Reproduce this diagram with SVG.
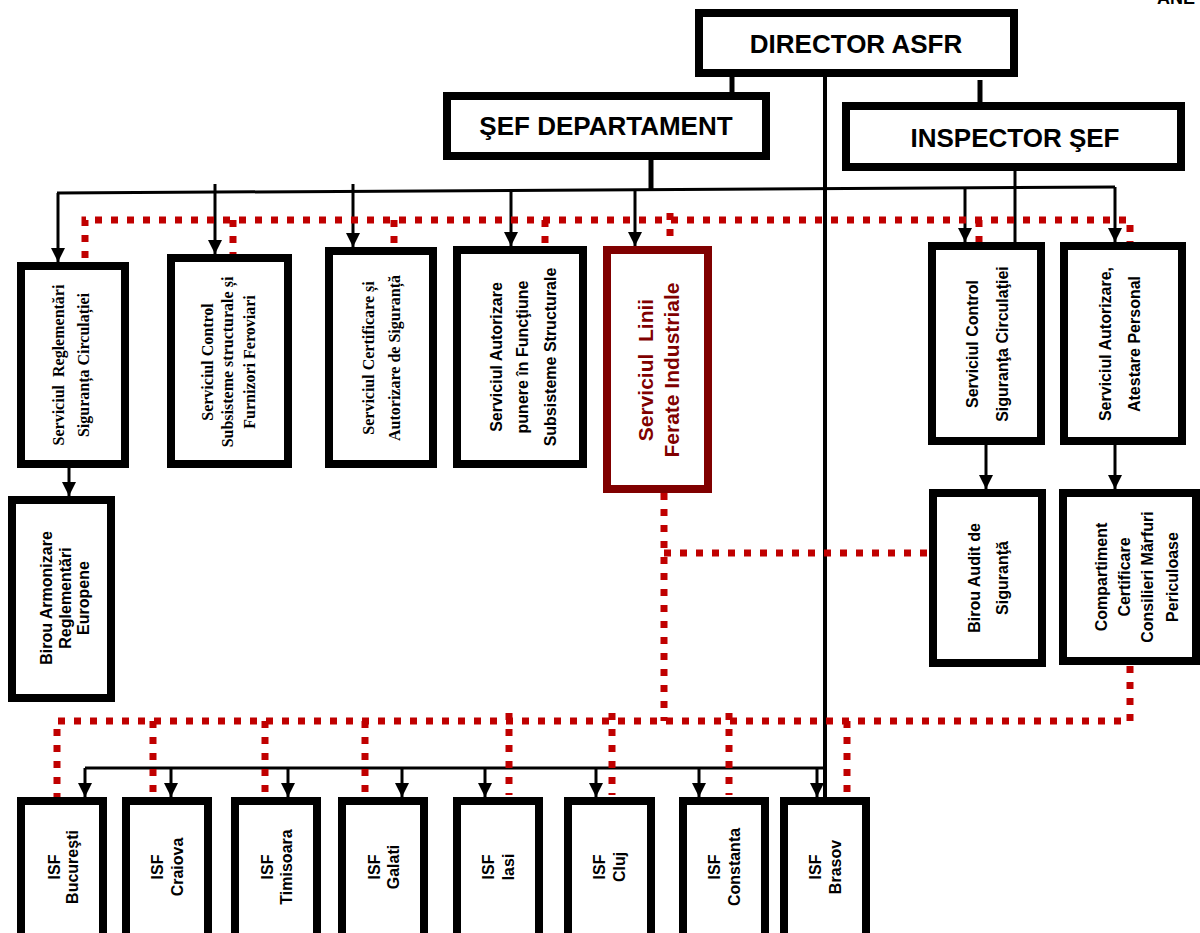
<svg xmlns="http://www.w3.org/2000/svg" width="1200" height="933" viewBox="0 0 1200 933">
<style>
.box{fill:#fff;stroke:#000;stroke-width:8}
.red-box{fill:#fff;stroke:#800000;stroke-width:8}
.ln{fill:none;stroke:#000;stroke-width:3}
.lnb{fill:none;stroke:#000;stroke-width:5}
.dot{fill:none;stroke:#C00000;stroke-width:7;stroke-dasharray:7 9}
.sans{font-family:"Liberation Sans",Arial,sans-serif;font-weight:bold;fill:#000}
.serif{font-family:"Liberation Serif","Times New Roman",serif;font-weight:bold;fill:#000}
.big{font-size:26px}
.s16{font-size:16px}
.t16{font-size:16px}
</style>
<defs>
<marker id="arr" markerUnits="userSpaceOnUse" markerWidth="14" markerHeight="14" refX="14" refY="7" orient="auto">
<path d="M0,0 L14,7 L0,14 z" fill="#000"/>
</marker>
</defs>
<rect width="1200" height="933" fill="#fff"/>
<text class="sans" x="1157" y="4" font-size="18">ANE</text>

<g id="connectors">
<!-- top hierarchy -->
<path class="lnb" d="M732,77 V92"/>
<path class="lnb" d="M980,80 V102"/>
<path class="ln" d="M825,77 V797" style="stroke-width:4"/>
<path class="lnb" d="M651,160 V191"/>
<path class="ln" d="M1015,171 V242"/>
<path class="ln" d="M57,193 L1115,187"/>
<path class="ln" marker-end="url(#arr)" d="M58,193 V262"/>
<path class="ln" marker-end="url(#arr)" d="M215,184 V254"/>
<path class="ln" marker-end="url(#arr)" d="M353,184 V247"/>
<path class="ln" marker-end="url(#arr)" d="M511,191 V246"/>
<path class="ln" marker-end="url(#arr)" d="M635,190 V246"/>
<path class="ln" marker-end="url(#arr)" d="M965,188 V242"/>
<path class="ln" marker-end="url(#arr)" d="M1115,187 V242"/>
<path class="ln" marker-end="url(#arr)" d="M69,468 V496"/>
<path class="ln" marker-end="url(#arr)" d="M986,445 V489"/>
<path class="ln" marker-end="url(#arr)" d="M1115,445 V489"/>
<!-- bottom ISF bus -->
<path class="ln" d="M85,768 H825"/>
<path class="ln" marker-end="url(#arr)" d="M85,768 V797"/>
<path class="ln" marker-end="url(#arr)" d="M171,768 V797"/>
<path class="ln" marker-end="url(#arr)" d="M288,768 V797"/>
<path class="ln" marker-end="url(#arr)" d="M402,768 V797"/>
<path class="ln" marker-end="url(#arr)" d="M485,768 V797"/>
<path class="ln" marker-end="url(#arr)" d="M596,768 V797"/>
<path class="ln" marker-end="url(#arr)" d="M699,768 V797"/>
<path class="ln" marker-end="url(#arr)" d="M817,768 V797"/>
<!-- red dotted top -->
<path class="dot" d="M85,258 V220 H1130 V248"/>
<path class="dot" d="M233,220 V260"/>
<path class="dot" d="M394,220 V257"/>
<path class="dot" d="M545,220 V255"/>
<path class="dot" d="M670,213 V240"/>
<path class="dot" d="M979,220 V248"/>
<!-- red dotted middle/bottom -->
<path class="dot" d="M664,493 V721"/>
<path class="dot" d="M664,553 H929"/>
<path class="dot" d="M57,800 V721 H1130 V665"/>
<path class="dot" d="M153,721 V806"/>
<path class="dot" d="M265,721 V798"/>
<path class="dot" d="M365,721 V797"/>
<path class="dot" d="M509,713 V795"/>
<path class="dot" d="M612,713 V795"/>
<path class="dot" d="M729,713 V795"/>
<path class="dot" d="M847,721 V795"/>
</g>

<g id="director">
<rect class="box" x="699" y="13" width="315" height="60"/>
<text class="sans big" x="856" y="53" text-anchor="middle">DIRECTOR ASFR</text>
</g>
<g id="sef-departament">
<rect class="box" x="447" y="96" width="319" height="60"/>
<text class="sans big" x="606" y="135" text-anchor="middle">ŞEF DEPARTAMENT</text>
</g>
<g id="inspector-sef">
<rect class="box" x="846" y="106" width="335" height="61"/>
<text class="sans big" x="1015" y="147" text-anchor="middle">INSPECTOR ŞEF</text>
</g>

<g id="serv-reglementari">
<rect class="box" x="21" y="266" width="104" height="198"/>
<g transform="translate(0,365) rotate(-90)" class="serif t16" text-anchor="middle">
<text y="64" xml:space="preserve">Serviciul  Reglementări</text>
<text y="89">Siguranța Circulației</text>
</g>
</g>
<g id="serv-control-subsisteme">
<rect class="box" x="171" y="258" width="117" height="206"/>
<g transform="translate(0,362) rotate(-90)" class="serif t16" text-anchor="middle">
<text y="213">Serviciul Control</text>
<text y="233">Subsisteme structurale și</text>
<text y="255">Furnizori Feroviari</text>
</g>
</g>
<g id="serv-certificare">
<rect class="box" x="329" y="251" width="104" height="213"/>
<g transform="translate(0,358) rotate(-90)" class="serif t16" text-anchor="middle">
<text y="374">Serviciul Certificare și</text>
<text y="400">Autorizare de Siguranță</text>
</g>
</g>
<g id="serv-autorizare-punere">
<rect class="box" x="457" y="250" width="126" height="214"/>
<g transform="translate(0,357) rotate(-90)" class="sans s16" text-anchor="middle">
<text y="502">Serviciul Autorizare</text>
<text y="528">punere în Funcţiune</text>
<text y="556">Subsisteme Structurale</text>
</g>
</g>
<g id="serv-linii-ferate">
<rect class="red-box" x="607" y="250" width="101" height="239"/>
<g transform="translate(0,370) rotate(-90)" class="sans" font-size="21" fill="#800000" style="fill:#800000" text-anchor="middle">
<text y="653" xml:space="preserve">Serviciul  Linii</text>
<text y="679">Ferate Industriale</text>
</g>
</g>
<g id="serv-control-siguranta">
<rect class="box" x="932" y="246" width="109" height="195"/>
<g transform="translate(0,344) rotate(-90)" class="sans s16" text-anchor="middle">
<text y="978">Serviciul Control</text>
<text y="1008">Siguranţa Circulaţiei</text>
</g>
</g>
<g id="serv-autorizare-atestare">
<rect class="box" x="1064" y="246" width="118" height="195"/>
<g transform="translate(0,344) rotate(-90)" class="sans s16" text-anchor="middle">
<text y="1111">Serviciul Autorizare,</text>
<text y="1140">Atestare Personal</text>
</g>
</g>
<g id="birou-armonizare">
<rect class="box" x="12" y="500" width="99" height="198"/>
<g transform="translate(0,598) rotate(-90)" class="sans s16" text-anchor="middle">
<text y="52">Birou Armonizare</text>
<text y="71">Reglementări</text>
<text y="89">Europene</text>
</g>
</g>
<g id="birou-audit">
<rect class="box" x="933" y="493" width="109" height="170"/>
<g transform="translate(0,578) rotate(-90)" class="sans s16" text-anchor="middle">
<text y="980">Birou Audit de</text>
<text y="1008">Siguranţă</text>
</g>
</g>
<g id="compartiment-certificare">
<rect class="box" x="1063" y="493" width="133" height="168"/>
<g transform="translate(0,577) rotate(-90)" class="sans s16" text-anchor="middle">
<text y="1107">Compartiment</text>
<text y="1130">Certificare</text>
<text y="1153">Consilieri Mărfuri</text>
<text y="1178">Periculoase</text>
</g>
</g>

<g id="isf-bucuresti">
<rect class="box" x="21" y="801" width="82" height="140"/>
<g transform="translate(0,867) rotate(-90)" class="sans s16" text-anchor="middle"><text y="60">ISF</text><text y="78">Bucureşti</text></g>
</g>
<g id="isf-craiova">
<rect class="box" x="126" y="801" width="82" height="140"/>
<g transform="translate(0,867) rotate(-90)" class="sans s16" text-anchor="middle"><text y="163">ISF</text><text y="183">Craiova</text></g>
</g>
<g id="isf-timisoara">
<rect class="box" x="235" y="801" width="82" height="140"/>
<g transform="translate(0,867) rotate(-90)" class="sans s16" text-anchor="middle"><text y="273">ISF</text><text y="292">Timisoara</text></g>
</g>
<g id="isf-galati">
<rect class="box" x="342" y="801" width="82" height="140"/>
<g transform="translate(0,867) rotate(-90)" class="sans s16" text-anchor="middle"><text y="380">ISF</text><text y="399">Galati</text></g>
</g>
<g id="isf-iasi">
<rect class="box" x="457" y="801" width="82" height="140"/>
<g transform="translate(0,867) rotate(-90)" class="sans s16" text-anchor="middle"><text y="494">ISF</text><text y="514">Iasi</text></g>
</g>
<g id="isf-cluj">
<rect class="box" x="568" y="801" width="83" height="140"/>
<g transform="translate(0,867) rotate(-90)" class="sans s16" text-anchor="middle"><text y="605">ISF</text><text y="625">Cluj</text></g>
</g>
<g id="isf-constanta">
<rect class="box" x="683" y="801" width="82" height="140"/>
<g transform="translate(0,867) rotate(-90)" class="sans s16" text-anchor="middle"><text y="720">ISF</text><text y="740">Constanta</text></g>
</g>
<g id="isf-brasov">
<rect class="box" x="784" y="801" width="82" height="140"/>
<g transform="translate(0,867) rotate(-90)" class="sans s16" text-anchor="middle"><text y="821">ISF</text><text y="841">Brasov</text></g>
</g>
</svg>
